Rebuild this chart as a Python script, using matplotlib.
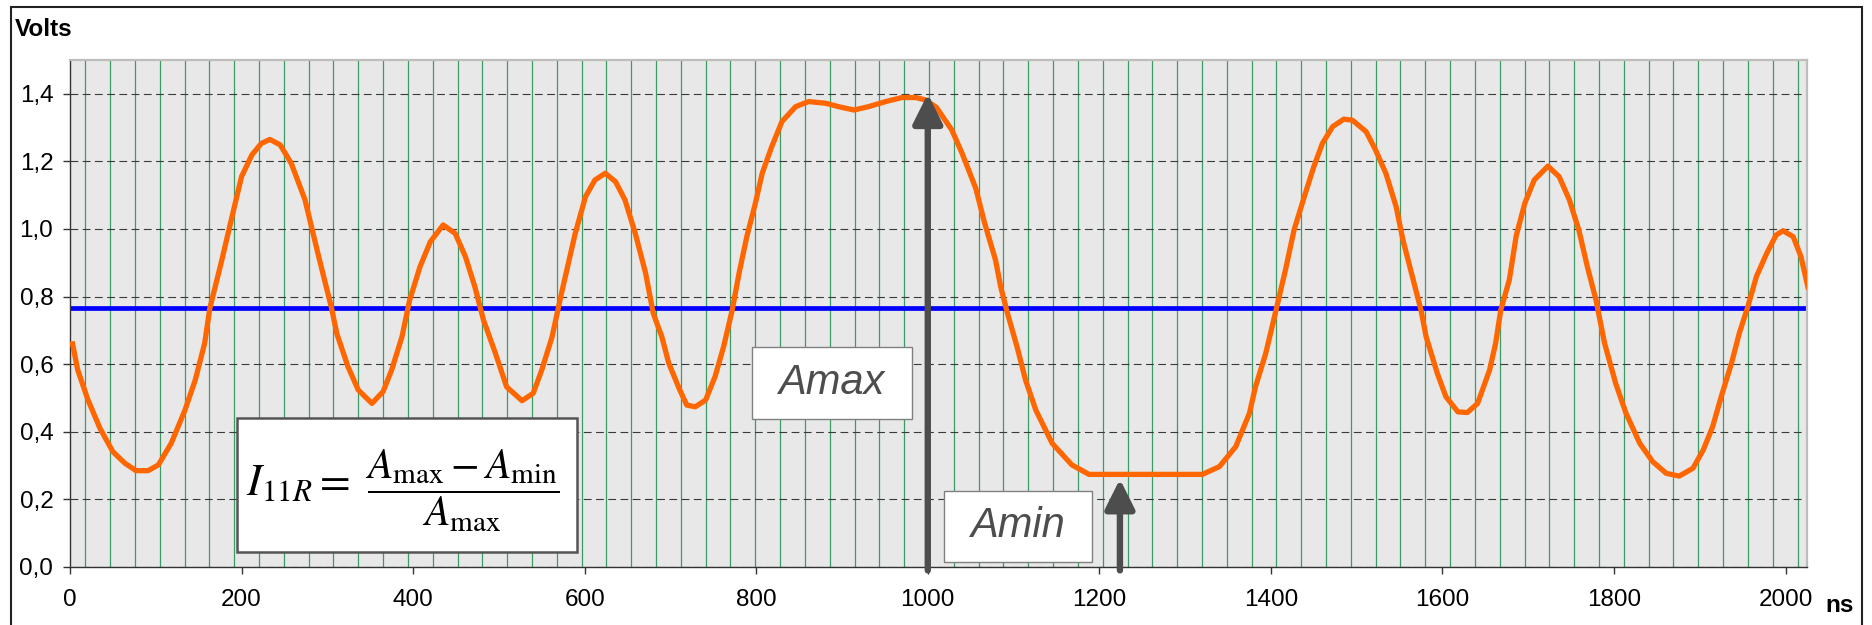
import matplotlib.pyplot as plt
from matplotlib.patches import Rectangle
from matplotlib.ticker import MultipleLocator

plt.rcParams['font.family'] = ['Liberation Sans', 'DejaVu Sans']
plt.rcParams['mathtext.fontset'] = 'stix'

# waveform (ns, volts)
time_ns = [3, 9, 21, 35, 50, 64, 77, 91, 103, 118, 134, 146, 157, 163, 177, 188, 200,
           212, 223, 233, 245, 258, 274, 289, 305, 311, 324, 336, 352, 365, 375, 387,
           396, 408, 420, 435, 449, 461, 472, 482, 496, 509, 527, 540, 550, 562, 573,
           589, 601, 612, 624, 636, 647, 659, 671, 680, 690, 698, 710, 719, 729, 741,
           752, 762, 772, 780, 789, 799, 807, 818, 830, 846, 861, 881, 896, 914, 931,
           951, 970, 986, 997, 1010, 1028, 1040, 1056, 1066, 1079, 1085, 1093, 1104,
           1114, 1126, 1145, 1168, 1188, 1320, 1340, 1351, 1359, 1375, 1382, 1394,
           1406, 1417, 1427, 1439, 1450, 1460, 1472, 1485, 1495, 1511, 1522, 1534,
           1546, 1554, 1565, 1575, 1581, 1594, 1604, 1618, 1629, 1641, 1655, 1662,
           1668, 1678, 1686, 1696, 1707, 1723, 1736, 1748, 1759, 1769, 1779, 1789,
           1802, 1814, 1830, 1845, 1861, 1876, 1892, 1904, 1915, 1925, 1937, 1946,
           1956, 1966, 1978, 1989, 1997, 2009, 2018, 2026]
volts = [0.66, 0.583, 0.494, 0.41, 0.341, 0.307, 0.285, 0.285, 0.302, 0.366, 0.464,
         0.553, 0.662, 0.765, 0.908, 1.027, 1.155, 1.219, 1.253, 1.265, 1.249, 1.194,
         1.086, 0.928, 0.765, 0.691, 0.593, 0.524, 0.484, 0.519, 0.583, 0.681, 0.79,
         0.888, 0.962, 1.012, 0.987, 0.918, 0.829, 0.731, 0.632, 0.533, 0.492, 0.514,
         0.583, 0.681, 0.81, 0.987, 1.096, 1.145, 1.165, 1.14, 1.086, 0.987, 0.87,
         0.75, 0.681, 0.603, 0.529, 0.479, 0.474, 0.494, 0.563, 0.652, 0.76, 0.869,
         0.977, 1.076, 1.165, 1.243, 1.318, 1.362, 1.377, 1.372, 1.362, 1.352, 1.362,
         1.377, 1.389, 1.389, 1.382, 1.36, 1.293, 1.224, 1.12, 1.02, 0.908, 0.829,
         0.75, 0.652, 0.553, 0.464, 0.366, 0.302, 0.274, 0.274, 0.297, 0.331, 0.356,
         0.455, 0.533, 0.632, 0.76, 0.879, 0.997, 1.096, 1.184, 1.253, 1.303, 1.325,
         1.322, 1.288, 1.234, 1.165, 1.066, 0.967, 0.859, 0.76, 0.681, 0.573, 0.504,
         0.459, 0.457, 0.484, 0.583, 0.662, 0.76, 0.85, 0.98, 1.076, 1.145, 1.186,
         1.155, 1.086, 0.997, 0.888, 0.79, 0.662, 0.543, 0.455, 0.366, 0.312, 0.277,
         0.269, 0.292, 0.346, 0.415, 0.504, 0.603, 0.691, 0.77, 0.859, 0.928, 0.982,
         0.995, 0.977, 0.918, 0.829]

threshold = 0.765
a_max_time, a_max = 1000, 1.40
a_min_time, a_min = 1224, 0.26

x_ticks = [0, 200, 400, 600, 800, 1000, 1200, 1400, 1600, 1800, 2000]
y_ticks = [0.0, 0.2, 0.4, 0.6, 0.8, 1.0, 1.2, 1.4]
y_labels = ['0,0', '0,2', '0,4', '0,6', '0,8', '1,0', '1,2', '1,4']

# bit clock grid lines
clock_period = 28.93
clock_first = 17.8

W, H = 1872, 625
fig = plt.figure(figsize=(W / 100, H / 100), dpi=100)
ax = fig.add_axes([70 / W, 58 / H, 1737 / W, 507 / H])
ax.set_facecolor('#e8e8e8')

ax.set_xlim(0, 2025)
ax.set_ylim(0, 1.5)

ax.xaxis.set_minor_locator(MultipleLocator(clock_period, offset=clock_first))
ax.grid(axis='x', which='minor', color='#3c9a64', linewidth=0.9)
ax.grid(axis='y', which='major', color='#3a3a3a', linewidth=0.8, linestyle=(0, (7, 4)))
ax.set_axisbelow(True)

ax.plot(time_ns, volts, color='#ff6600', linewidth=3.8, zorder=3, solid_joinstyle='round')
ax.axhline(threshold, color='#0000ff', linewidth=3.4, zorder=2.5)

arrow_kw = dict(arrowstyle='-|>,head_length=18,head_width=9', color='#4d4d4d', lw=4.6,
                shrinkA=0, shrinkB=0, mutation_scale=1)
ax.annotate('', xy=(a_max_time, a_max), xytext=(a_max_time, -0.01),
            arrowprops=arrow_kw, annotation_clip=False, zorder=5)
ax.annotate('', xy=(a_min_time, a_min), xytext=(a_min_time, -0.01),
            arrowprops=arrow_kw, annotation_clip=False, zorder=5)

# label boxes
ax.add_patch(Rectangle((795, 0.437), 186.6, 0.213, facecolor='white',
                       edgecolor='#808080', linewidth=1, zorder=4))
ax.text(888, 0.5435, 'Amax', style='italic', fontsize=30, color='#4d4d4d',
        ha='center', va='center', zorder=6)
ax.add_patch(Rectangle((1018.7, 0.016), 172.3, 0.21, facecolor='white',
                       edgecolor='#808080', linewidth=1, zorder=4))
ax.text(1105, 0.121, 'Amin', style='italic', fontsize=30, color='#4d4d4d',
        ha='center', va='center', zorder=6)

# formula box
ax.add_patch(Rectangle((195, 0.045), 395.8, 0.395, facecolor='white',
                       edgecolor='#555555', linewidth=1.8, zorder=4))
ax.text(327, 0.248, r'$I_{11R} =$', fontsize=32, ha='right', va='center', zorder=6)
ax.text(458, 0.226, r'$\dfrac{A_{\max} - A_{\min}}{A_{\max}}$', fontsize=30,
        ha='center', va='center', zorder=6)

ax.set_xticks(x_ticks)
ax.set_yticks(y_ticks, labels=y_labels)
ax.tick_params(axis='both', which='major', direction='out', length=5, width=1,
               color='#333333', labelsize=17.5, labelcolor='black')
ax.tick_params(axis='x', which='major', pad=11)
ax.tick_params(axis='y', which='major', pad=7)
ax.tick_params(axis='x', which='minor', length=0)

for side in ['left', 'bottom']:
    ax.spines[side].set_color('#333333')
    ax.spines[side].set_linewidth(1)
for side in ['top', 'right']:
    ax.spines[side].set_color('#bdbdbd')
    ax.spines[side].set_linewidth(1.6)

fig.text(15 / W, 1 - 36 / H, 'Volts', fontsize=17.5, fontweight='bold', va='baseline')
fig.text(1825 / W, 1 - 612 / H, 'ns', fontsize=17.5, fontweight='bold', va='baseline')

# outer chart border
fig.patches.append(Rectangle((10.7 / W, -0.05), (1862 - 10.7) / W, 1.05 - 7.3 / H,
                             transform=fig.transFigure, fill=False,
                             edgecolor='#222222', linewidth=1.5))

fig.savefig('out.png', dpi=100)
